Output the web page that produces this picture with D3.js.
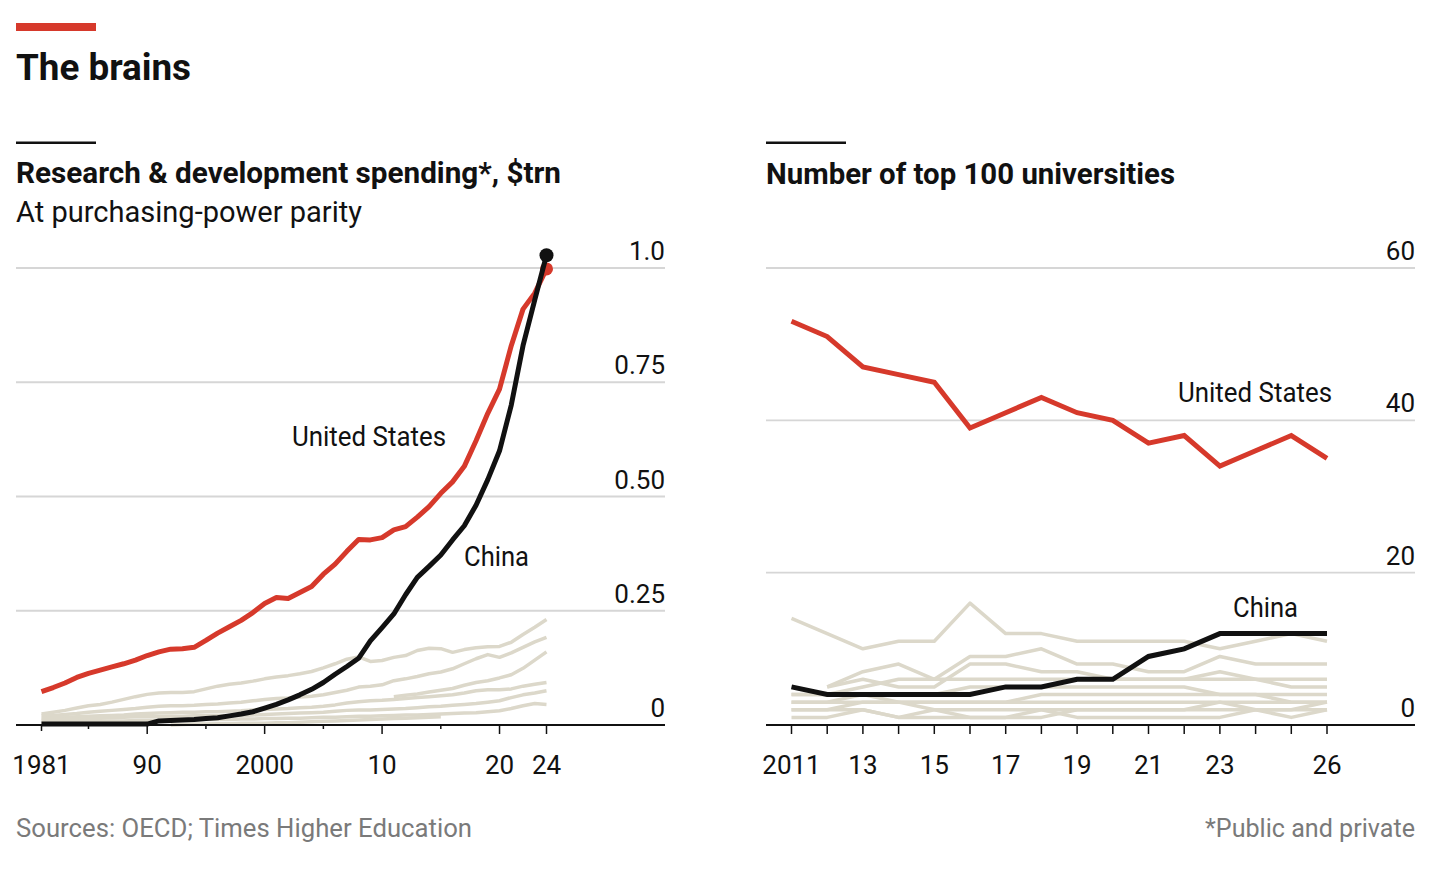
<!DOCTYPE html>
<html><head><meta charset="utf-8">
<script src="https://cdn.jsdelivr.net/npm/d3@7"></script>
<style>
html,body{margin:0;padding:0;background:#fff;}
svg{display:block;font-family:Roboto,"Noto Sans",sans-serif;}
</style></head>
<body>
<svg id="chart" width="1440" height="870"></svg>
<script>
// ---------------- DATA ----------------
const rdYears = d3.range(1981, 2025);
const rdUS = [0.073,0.082,0.092,0.104,0.113,0.120,0.127,0.134,0.142,0.152,0.160,0.166,0.167,0.170,0.185,0.201,0.215,0.229,0.246,0.266,0.279,0.277,0.290,0.303,0.330,0.352,0.380,0.406,0.405,0.410,0.427,0.434,0.455,0.478,0.507,0.532,0.566,0.622,0.682,0.735,0.830,0.910,0.945,0.998];
const rdChina = [0.002,0.002,0.002,0.002,0.002,0.002,0.002,0.002,0.002,0.002,0.009,0.010,0.011,0.012,0.014,0.016,0.020,0.024,0.029,0.037,0.045,0.055,0.066,0.078,0.093,0.111,0.128,0.146,0.184,0.213,0.243,0.285,0.323,0.347,0.372,0.405,0.436,0.481,0.537,0.600,0.700,0.830,0.930,1.028];
// other countries (grey), 1981-2024, null = no data
const rdOther1 = [0.024,0.028,0.032,0.037,0.042,0.045,0.050,0.056,0.062,0.067,0.070,0.071,0.071,0.073,0.079,0.085,0.089,0.092,0.096,0.101,0.105,0.108,0.112,0.117,0.125,0.134,0.144,0.149,0.139,0.141,0.148,0.152,0.163,0.168,0.167,0.159,0.165,0.169,0.171,0.172,0.181,0.198,0.214,0.231];
const rdOther2 = [0.020,0.021,0.023,0.025,0.028,0.030,0.032,0.034,0.036,0.039,0.041,0.042,0.042,0.043,0.045,0.046,0.048,0.050,0.053,0.056,0.058,0.059,0.061,0.063,0.066,0.071,0.076,0.083,0.085,0.088,0.097,0.101,0.106,0.112,0.116,0.123,0.134,0.145,0.154,0.148,0.158,0.170,0.182,0.192];
const rdOther3 = [null,null,null,null,null,null,null,null,null,null,null,null,null,null,null,null,null,null,null,null,null,null,null,null,null,null,null,null,null,null,0.062,0.065,0.068,0.072,0.076,0.080,0.087,0.093,0.097,0.103,0.110,0.124,0.142,0.160];
const rdOther4 = [0.015,0.016,0.017,0.018,0.019,0.020,0.021,0.022,0.024,0.025,0.026,0.027,0.028,0.028,0.029,0.029,0.030,0.031,0.033,0.034,0.035,0.036,0.038,0.039,0.041,0.044,0.048,0.051,0.053,0.054,0.056,0.058,0.060,0.062,0.064,0.066,0.070,0.075,0.077,0.077,0.079,0.085,0.089,0.093];
const rdOther5 = [0.011,0.011,0.012,0.013,0.014,0.015,0.016,0.017,0.018,0.018,0.018,0.019,0.019,0.020,0.020,0.020,0.021,0.021,0.022,0.023,0.024,0.025,0.026,0.027,0.028,0.030,0.032,0.033,0.033,0.034,0.035,0.036,0.038,0.040,0.041,0.043,0.045,0.047,0.050,0.053,0.060,0.066,0.070,0.075];
const rdOther6 = [0.006,0.006,0.007,0.007,0.008,0.008,0.009,0.009,0.010,0.010,0.010,0.011,0.011,0.011,0.012,0.012,0.012,0.013,0.013,0.014,0.014,0.015,0.015,0.016,0.017,0.017,0.018,0.019,0.019,0.020,0.021,0.022,0.022,0.023,0.024,0.025,0.026,0.027,0.029,0.031,0.036,0.042,0.047,0.045];
const rdOther7 = [null,null,null,null,null,null,null,null,null,null,null,0.000,0.001,0.002,0.002,0.003,0.003,0.004,0.004,0.004,0.005,0.005,0.006,0.007,0.008,0.009,0.010,0.011,0.012,0.013,0.014,0.015,0.016,0.017,0.018,null,null,null,null,null,null,null,null,null];
const rdOthers = [rdOther1, rdOther2, rdOther3, rdOther4, rdOther5, rdOther6, rdOther7];
const rdYTicks = [0, 0.25, 0.5, 0.75, 1.0];
const rdYTickLabels = ["0", "0.25", "0.50", "0.75", "1.0"];
const rdXTicks = [1981, 1985, 1990, 1995, 2000, 2005, 2010, 2015, 2020, 2024];
const rdXLabels = {1981: "1981", 1990: "90", 2000: "2000", 2010: "10", 2020: "20", 2024: "24"};

const uniYears = d3.range(2011, 2027);
const uniUS = [53,51,47,46,45,39,41,43,41,40,37,38,34,36,38,35];
const uniChina = [5,4,4,4,4,4,5,5,6,6,9,10,12,12,12,12];
const uniOther1 = [14,12,10,11,11,16,12,12,11,11,11,11,10,11,12,11];
const uniOther2 = [null,5,7,8,6,9,9,10,8,8,7,7,9,8,8,8];
const uniOther3 = [null,5,6,5,5,8,8,7,7,6,6,6,6,6,6,6];
const uniOther4 = [4,4,5,6,6,6,6,6,6,6,6,6,7,6,5,5];
const uniOther5 = [4,4,4,4,4,5,5,5,5,5,5,5,4,4,4,4];
const uniOther6 = [3,3,4,3,3,3,3,4,4,4,4,4,4,4,3,3];
const uniOther7 = [3,3,3,3,3,3,3,3,3,3,3,3,3,3,3,3];
const uniOther8 = [2,2,3,3,2,1,1,1,2,2,2,2,3,2,2,2];
const uniOther9 = [2,2,2,1,2,2,2,2,1,1,1,1,1,2,2,3];
const uniOther10 = [1,1,2,1,1,1,1,2,2,2,2,2,2,2,1,2];
const uniOthers = [uniOther1, uniOther2, uniOther3, uniOther4, uniOther5, uniOther6, uniOther7, uniOther8, uniOther9, uniOther10];
const uniYTicks = [0, 20, 40, 60];
const uniXLabels = {2011: "2011", 2013: "13", 2015: "15", 2017: "17", 2019: "19", 2021: "21", 2023: "23", 2026: "26"};

// ---------------- STYLE ----------------
const RED = "#d6392b", BLACK = "#111111", GREY = "#dcd8ca", GRID = "#d6d6d6";

const svg = d3.select("#chart");

function txt(x, y, s, opt = {}) {
  const t = svg.append("text").attr("x", x).attr("y", y).text(s)
    .attr("font-size", opt.size || 26)
    .attr("font-weight", opt.weight || 400)
    .attr("fill", opt.fill || "#111")
    .attr("text-anchor", opt.anchor || "start");
  if (opt.width) t.attr("textLength", opt.width).attr("lengthAdjust", "spacingAndGlyphs");
  return t;
}

// header
svg.append("rect").attr("x", 16).attr("y", 23).attr("width", 80).attr("height", 8).attr("fill", RED);
txt(16, 80, "The brains", {size: 37, weight: 700, width: 175});

// panel headers
svg.append("rect").attr("x", 16).attr("y", 141.5).attr("width", 80).attr("height", 2.5).attr("fill", "#111");
txt(16, 183, "Research & development spending*, $trn", {size: 30, weight: 700, width: 545});
txt(16, 222, "At purchasing-power parity", {size: 29, weight: 400, width: 346});

svg.append("rect").attr("x", 766).attr("y", 141.5).attr("width", 80).attr("height", 2.5).attr("fill", "#111");
txt(766, 184, "Number of top 100 universities", {size: 30, weight: 700, width: 409});

// ---------------- LEFT PANEL ----------------
const xL = d3.scaleLinear().domain([1981, 2024]).range([41.5, 546.5]);
const yL = d3.scaleLinear().domain([0, 1]).range([725, 268]);
const L0 = 16, L1 = 665;

const gL = svg.append("g");
gL.selectAll("line.grid").data(rdYTicks.filter(d => d > 0)).join("line")
  .attr("x1", L0).attr("x2", L1).attr("y1", d => yL(d)).attr("y2", d => yL(d))
  .attr("stroke", GRID).attr("stroke-width", 1.8);
gL.selectAll("text.yl").data(rdYTicks).join("text")
  .attr("x", L1).attr("y", d => yL(d) - 8).attr("text-anchor", "end")
  .attr("font-size", 26).attr("fill", "#111").text((d, i) => rdYTickLabels[i]);

const lineL = d3.line().defined(d => d[1] != null).x(d => xL(d[0])).y(d => yL(d[1]));
rdOthers.forEach(s => {
  gL.append("path").attr("d", lineL(rdYears.map((y, i) => [y, s[i]])))
    .attr("fill", "none").attr("stroke", GREY).attr("stroke-width", 3.5).attr("stroke-linejoin", "round");
});
gL.append("path").attr("d", lineL(rdYears.map((y, i) => [y, rdUS[i]])))
  .attr("fill", "none").attr("stroke", RED).attr("stroke-width", 5).attr("stroke-linejoin", "round");
gL.append("circle").attr("cx", xL(2024)).attr("cy", yL(rdUS[rdUS.length - 1])).attr("r", 6.5).attr("fill", RED);
gL.append("path").attr("d", lineL(rdYears.map((y, i) => [y, rdChina[i]])))
  .attr("fill", "none").attr("stroke", BLACK).attr("stroke-width", 5).attr("stroke-linejoin", "round");
gL.append("circle").attr("cx", xL(2024)).attr("cy", yL(rdChina[rdChina.length - 1])).attr("r", 7).attr("fill", BLACK);

// axis
gL.append("line").attr("x1", L0).attr("x2", L1).attr("y1", 725).attr("y2", 725).attr("stroke", "#111").attr("stroke-width", 1.8);
gL.selectAll("line.tick").data(rdXTicks).join("line")
  .attr("x1", d => xL(d)).attr("x2", d => xL(d)).attr("y1", 725)
  .attr("y2", d => 725 + (d % 10 === 0 || d === 2024 ? 9 : (d === 1981 ? 6 : 4)))
  .attr("stroke", "#111").attr("stroke-width", 1.5);
gL.selectAll("text.xl").data(rdXTicks.filter(d => rdXLabels[d])).join("text")
  .attr("x", d => xL(d)).attr("y", 774).attr("text-anchor", "middle")
  .attr("font-size", 26).attr("fill", "#111").text(d => rdXLabels[d]);

txt(292, 446, "United States", {size: 27, width: 154});
txt(464, 566, "China", {size: 27, width: 65});

// ---------------- RIGHT PANEL ----------------
const xR = d3.scaleLinear().domain([2011, 2026]).range([791.5, 1327]);
const yR = d3.scaleLinear().domain([0, 60]).range([725, 268]);
const R0 = 766, R1 = 1415;

const gR = svg.append("g");
gR.selectAll("line.grid").data(uniYTicks.filter(d => d > 0)).join("line")
  .attr("x1", R0).attr("x2", R1).attr("y1", d => yR(d)).attr("y2", d => yR(d))
  .attr("stroke", GRID).attr("stroke-width", 1.8);
gR.selectAll("text.yl").data(uniYTicks).join("text")
  .attr("x", R1).attr("y", d => yR(d) - 8).attr("text-anchor", "end")
  .attr("font-size", 26).attr("fill", "#111").text(d => d);

const lineR = d3.line().defined(d => d[1] != null).x(d => xR(d[0])).y(d => yR(d[1]));
uniOthers.forEach(s => {
  gR.append("path").attr("d", lineR(uniYears.map((y, i) => [y, s[i]])))
    .attr("fill", "none").attr("stroke", GREY).attr("stroke-width", 3.5).attr("stroke-linejoin", "round");
});
gR.append("path").attr("d", lineR(uniYears.map((y, i) => [y, uniUS[i]])))
  .attr("fill", "none").attr("stroke", RED).attr("stroke-width", 5).attr("stroke-linejoin", "miter");
gR.append("path").attr("d", lineR(uniYears.map((y, i) => [y, uniChina[i]])))
  .attr("fill", "none").attr("stroke", BLACK).attr("stroke-width", 5).attr("stroke-linejoin", "miter");

gR.append("line").attr("x1", R0).attr("x2", R1).attr("y1", 725).attr("y2", 725).attr("stroke", "#111").attr("stroke-width", 1.8);
gR.selectAll("line.tick").data(uniYears).join("line")
  .attr("x1", d => xR(d)).attr("x2", d => xR(d)).attr("y1", 725).attr("y2", 734)
  .attr("stroke", "#111").attr("stroke-width", 1.5);
gR.selectAll("text.xl").data(uniYears.filter(d => uniXLabels[d])).join("text")
  .attr("x", d => xR(d)).attr("y", 774).attr("text-anchor", "middle")
  .attr("font-size", 26).attr("fill", "#111").text(d => uniXLabels[d]);

txt(1178, 402, "United States", {size: 27, width: 154});
txt(1233, 617, "China", {size: 27, width: 65});

// ---------------- FOOTER ----------------
txt(16, 837, "Sources: OECD; Times Higher Education", {size: 26, fill: "#7a7a7a", width: 456});
txt(1415, 837, "*Public and private", {size: 26, fill: "#7a7a7a", anchor: "end", width: 210});
</script>
</body></html>
